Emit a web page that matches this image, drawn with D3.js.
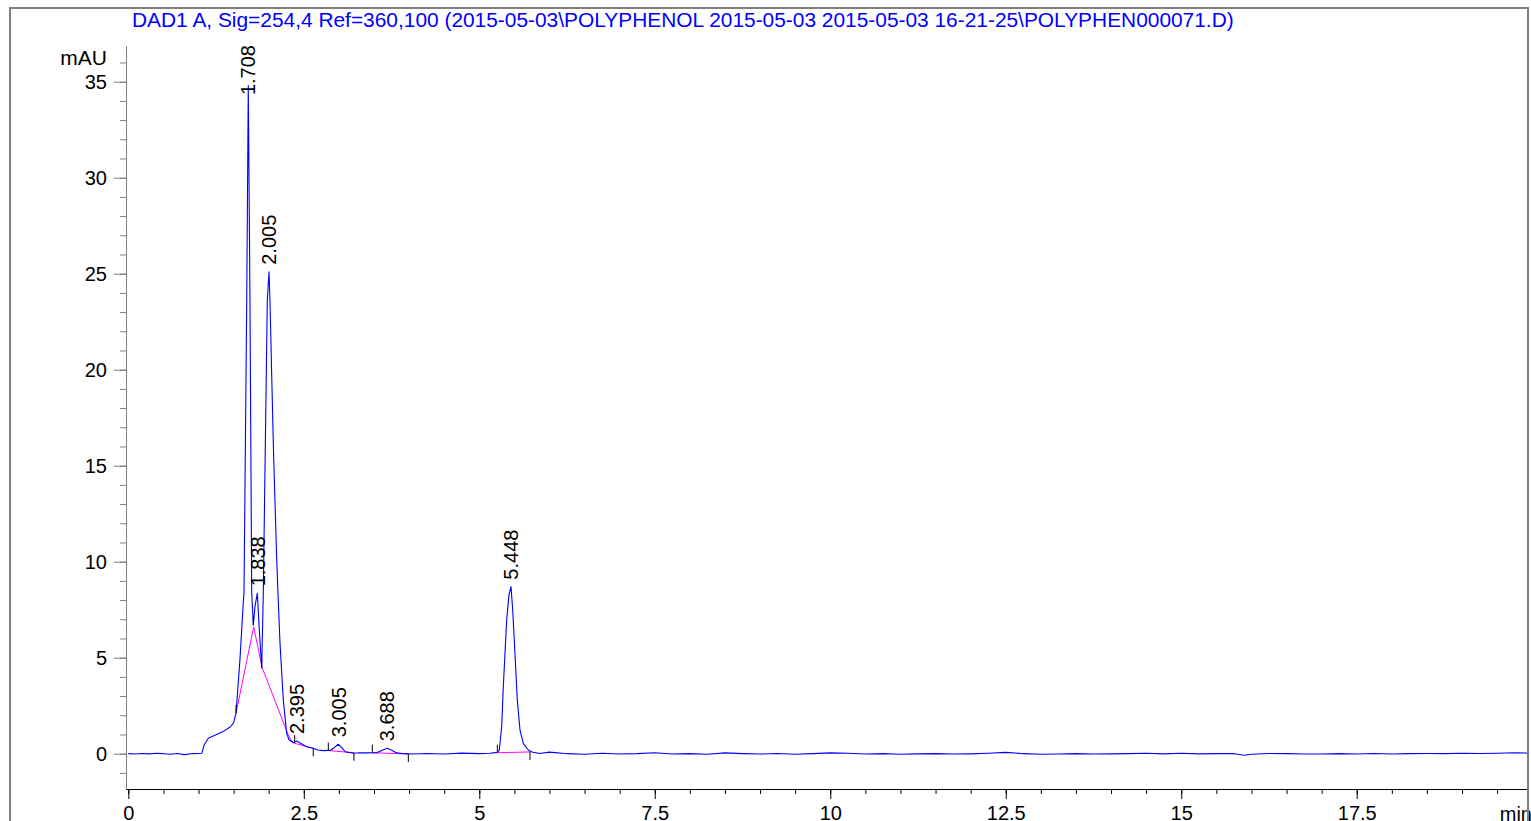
<!DOCTYPE html>
<html>
<head>
<meta charset="utf-8">
<script src="https://cdn.jsdelivr.net/npm/d3@7"></script>
<style>
body { margin: 0; background: #fff; }
svg text { font-family: "Liberation Sans", Arial, sans-serif; }
</style>
</head>
<body>
<script>
const title = "DAD1 A, Sig=254,4 Ref=360,100 (2015-05-03\\POLYPHENOL 2015-05-03 2015-05-03 16-21-25\\POLYPHEN000071.D)";

// temps (min) et signal (mAU)
const times = [0, 0.1, 0.2, 0.3, 0.4, 0.5, 0.6, 0.7, 0.8, 0.9, 1.0, 1.046, 1.08, 1.14, 1.21, 1.35, 1.45, 1.5, 1.535,
  1.59, 1.64, 1.648, 1.687, 1.709, 1.733, 1.758, 1.781, 1.805, 1.838, 1.866, 1.9, 1.923, 1.98, 2.004, 2.018,
  2.068, 2.114, 2.132, 2.161, 2.208, 2.256, 2.29, 2.35, 2.4, 2.46, 2.54, 2.635, 2.7, 2.78, 2.87, 2.93, 2.99,
  3.045, 3.09, 3.205, 3.3, 3.4, 3.54, 3.61, 3.69, 3.76, 3.82, 3.94, 4.06, 4.25, 4.5, 4.75, 5.0, 5.15,
  5.257, 5.285, 5.319, 5.342, 5.39, 5.423, 5.452, 5.476, 5.508, 5.541, 5.58, 5.627, 5.698, 5.75, 5.86,
  6.0, 6.25, 6.5, 6.75, 7.0, 7.25, 7.5, 7.75, 8.0, 8.25, 8.5, 8.75, 9.0, 9.25, 9.5, 9.75, 10.0, 10.25,
  10.5, 10.75, 11.0, 11.25, 11.5, 11.75, 12.0, 12.25, 12.5, 12.75, 13.0, 13.25, 13.5, 13.75, 14.0, 14.25,
  14.5, 14.75, 15.0, 15.25, 15.5, 15.75, 15.9, 16.0, 16.25, 16.5, 16.75, 17.0, 17.25, 17.5, 17.75, 18.0,
  18.25, 18.5, 18.75, 19.0, 19.25, 19.5, 19.75, 19.94];
const signal = [0.0, -0.02, 0.01, -0.01, 0.02, 0.0, -0.03, 0.01, -0.05, 0.0, 0.01, 0.02, 0.45, 0.8, 0.92, 1.15, 1.39, 1.6, 2.12,
  4.9, 8.0, 8.37, 23.6, 34.8, 23.6, 8.37, 6.7, 7.7, 8.35, 6.45, 4.46, 8.37, 23.6, 25.1, 23.6,
  15.8, 10.1, 8.35, 5.75, 2.8, 1.06, 0.71, 0.58, 0.66, 0.53, 0.36, 0.28, 0.19, 0.16, 0.17, 0.3, 0.49,
  0.3, 0.1, 0.02, 0.05, 0.04, 0.05, 0.17, 0.28, 0.17, 0.04, 0.0, -0.02, 0.01, -0.02, 0.03, 0.0, 0.02,
  0.07, 0.19, 1.4, 3.49, 6.96, 8.27, 8.7, 7.48, 5.23, 2.8, 1.23, 0.54, 0.19, 0.09, 0.01,
  0.08, 0.0, -0.03, 0.02, -0.02, 0.0, 0.05, -0.02, 0.0, -0.03, 0.04, 0.0, -0.02, 0.01, -0.03, 0.0, 0.04, 0.02,
  -0.02, 0.0, -0.03, -0.01, 0.0, -0.02, -0.01, 0.02, 0.07, 0.0, -0.03, -0.02, 0.0, -0.02, -0.01, 0.0,
  0.02, -0.01, 0.02, -0.01, 0.0, 0.0, -0.08, -0.03, 0.01, 0.0, -0.02, -0.02, 0.0, -0.02, 0.01, -0.02,
  0.0, 0.01, 0.0, 0.02, 0.01, 0.02, 0.05, 0.03];

// lignes de base de l'integration (magenta)
const baseT = [[1.535, 1.786, 1.905, 2.279, 2.342, 2.635], [2.849, 3.214], [3.476, 3.989], [5.257, 5.722]];
const baseV = [[2.12, 6.6, 4.5, 0.97, 0.57, 0.28], [0.16, 0.05], [0.05, -0.02], [0.05, 0.09]];

// marques debut / fin de pic (1 = vers le haut, -1 = vers le bas)
const markT = [1.535, 1.781, 1.9, 2.37, 2.635, 2.849, 3.214, 3.476, 3.989, 5.257, 5.722];
const markV = [2.12, 6.7, 4.5, 0.55, 0.28, 0.16, 0.05, 0.05, -0.02, 0.05, 0.09];
const markDir = [1, 1, 1, 1, -1, 1, -1, 1, -1, 1, -1];

// temps de retention
const peakRT = ["1.708", "1.838", "2.005", "2.395", "3.005", "3.688", "5.448"];
const peakH = [34.8, 8.35, 25.1, 0.66, 0.49, 0.28, 8.7];

const yMajor = [0, 5, 10, 15, 20, 25, 30, 35];
const xMajor = [0, 2.5, 5, 7.5, 10, 12.5, 15, 17.5];

const width = 1531, height = 821;

const svg = d3.select("body").append("svg")
    .attr("width", width)
    .attr("height", height);

// echelles
let x = d3.scaleLinear().domain([-0.033, 19.94]).range([126, 1528]);
let y = d3.scaleLinear().domain([-1.84, 36.86]).range([789, 46]);

// axe Y
svg.append("g")
    .attr("transform", "translate(126,0)")
    .call(d3.axisLeft(y).tickValues(d3.range(-1, 37, 1)).tickSize(6).tickSizeOuter(0).tickFormat(""))
    .call(g => g.selectAll("line,path").attr("stroke", "#7f7f7f"));

svg.append("g")
    .attr("transform", "translate(126,0)")
    .call(d3.axisLeft(y).tickValues(yMajor).tickSize(12).tickSizeOuter(0).tickPadding(7).tickFormat(d => String(d)))
    .call(g => g.selectAll("line,path").attr("stroke", "#7f7f7f"))
    .call(g => g.selectAll("text").style("font-size", "20px").attr("fill", "#000"));

// axe X
svg.append("g")
    .attr("transform", "translate(0,789)")
    .call(d3.axisBottom(x).tickValues(d3.range(0, 20, 0.5)).tickSize(5).tickSizeOuter(0).tickFormat(""))
    .call(g => g.selectAll("line,path").attr("stroke", "#000"));

svg.append("g")
    .attr("transform", "translate(0,789)")
    .call(d3.axisBottom(x).tickValues(xMajor).tickSize(10).tickSizeOuter(0).tickPadding(7).tickFormat(d => String(d)))
    .call(g => g.select("path").remove())
    .call(g => g.selectAll("line").attr("stroke", "#000"))
    .call(g => g.selectAll("text").style("font-size", "20px").attr("fill", "#000"));

svg.append("text")
    .text("mAU")
    .attr("text-anchor", "end")
    .attr("x", 107)
    .attr("y", 65)
    .style("font-size", "21px");

svg.append("text")
    .text("min")
    .attr("text-anchor", "end")
    .attr("x", 1532)
    .attr("y", 821)
    .style("font-size", "20px");

// titre
svg.append("text")
    .text(title)
    .attr("x", 132)
    .attr("y", 27)
    .style("font-size", "20.9px")
    .style("fill", "#0000ff");

// lignes de base
const line = d3.line().x(d => x(d[0])).y(d => y(d[1]));
baseT.forEach((ts, k) => {
    svg.append("path")
        .attr("d", line(ts.map((t, i) => [t, baseV[k][i]])))
        .attr("fill", "none")
        .attr("stroke", "#ff00ff")
        .attr("stroke-width", 1);
});

// signal
svg.append("path")
    .attr("d", line(times.map((t, i) => [t, signal[i]])))
    .attr("fill", "none")
    .attr("stroke", "#0000ff")
    .attr("stroke-width", 1.1)
    .attr("stroke-linejoin", "round");

// marques
svg.selectAll(".mark")
    .data(markT)
    .enter()
    .append("line")
    .attr("class", "mark")
    .attr("x1", d => x(d))
    .attr("x2", d => x(d))
    .attr("y1", (d, i) => y(markV[i]))
    .attr("y2", (d, i) => y(markV[i]) - 8 * markDir[i])
    .attr("stroke", "#000")
    .attr("stroke-width", 1);

// etiquettes des pics
svg.selectAll(".rt")
    .data(peakRT)
    .enter()
    .append("text")
    .attr("class", "rt")
    .text(d => d)
    .attr("dy", "0.36em")
    .style("font-size", "20px")
    .attr("fill", "#000")
    .each(function (d, i) {
        const len = this.getComputedTextLength();
        let yy = y(peakH[i]) - 7;
        if (yy - len < 45) yy = 45 + len;
        d3.select(this).attr("transform", "translate(" + x(+d) + "," + yy + ") rotate(-90)");
    });

// cadre
svg.append("rect")
    .attr("x", 10)
    .attr("y", 8)
    .attr("width", 1518)
    .attr("height", 840)
    .attr("fill", "none")
    .attr("stroke", "#808080")
    .attr("stroke-width", 2);
</script>
</body>
</html>
